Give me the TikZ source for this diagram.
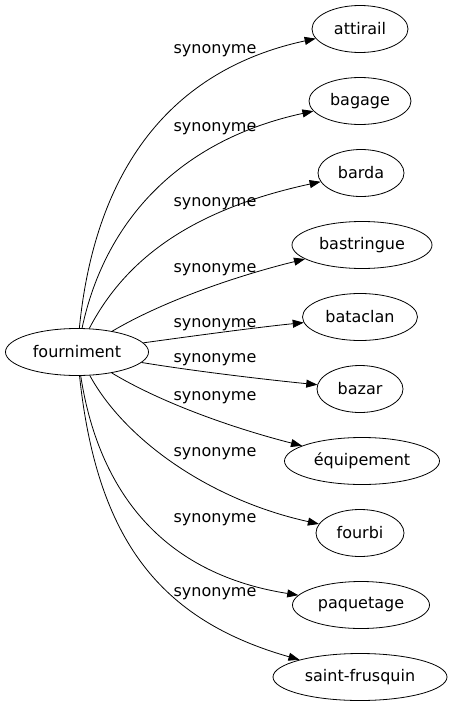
\documentclass[tikz,border=0pt]{standalone}
\usepackage{fontspec}
\setmainfont{DejaVu Sans}
\usetikzlibrary{shapes.geometric,arrows.meta}
\begin{document}
\begin{tikzpicture}[x=1pt,y=-1pt,
  word/.style={ellipse,draw,line width=0.8pt,inner sep=0pt,minimum height=47pt,font=\fontsize{16}{19}\selectfont},
  rel/.style={anchor=base,inner sep=0pt,font=\fontsize{16}{19}\selectfont},
  link/.style={line width=0.8pt,-{Triangle[length=11pt,width=8pt]}}]
\useasboundingbox (0,0) rectangle (452,707);
\node[word,minimum width=143pt] (f) at (77,352) {fourniment};
\node[word,minimum width=96pt] (n1) at (360,29) {attirail};
\node[word,minimum width=102pt] (n2) at (360,101) {bagage};
\node[word,minimum width=86pt] (n3) at (361,173) {barda};
\node[word,minimum width=140pt] (n4) at (362,245) {bastringue};
\node[word,minimum width=115pt] (n5) at (360,317) {bataclan};
\node[word,minimum width=86pt] (n6) at (360,389) {bazar};
\node[word,minimum width=155pt] (n7) at (362,461) {équipement};
\node[word,minimum width=88pt] (n8) at (360,533) {fourbi};
\node[word,minimum width=137pt] (n9) at (361,605) {paquetage};
\node[word,minimum width=174pt] (n10) at (360,677) {saint-frusquin};
\draw[link] (f) .. controls (95,170) and (170,70) .. (n1);
\draw[link] (f) .. controls (105,220) and (180,140) .. (n2);
\draw[link] (f) .. controls (125,260) and (190,210) .. (n3);
\draw[link] (f) .. controls (165,300) and (240,275) .. (n4);
\draw[link] (f) .. controls (200,335) and (260,327) .. (n5);
\draw[link] (f) .. controls (200,372) and (270,380) .. (n6);
\draw[link] (f) .. controls (165,405) and (240,430) .. (n7);
\draw[link] (f) .. controls (125,440) and (210,500) .. (n8);
\draw[link] (f) .. controls (100,500) and (170,575) .. (n9);
\draw[link] (f) .. controls (97,540) and (160,620) .. (n10);
\node[rel] (l1) at (215,53) {synonyme};
\node[rel] (l2) at (215,131) {synonyme};
\node[rel] (l3) at (215,206) {synonyme};
\node[rel] (l4) at (215,272) {synonyme};
\node[rel] (l5) at (215,327) {synonyme};
\node[rel] (l6) at (215,362) {synonyme};
\node[rel] (l7) at (215,400) {synonyme};
\node[rel] (l8) at (215,456) {synonyme};
\node[rel] (l9) at (215,522) {synonyme};
\node[rel] (l10) at (215,596) {synonyme};
\end{tikzpicture}
\end{document}
